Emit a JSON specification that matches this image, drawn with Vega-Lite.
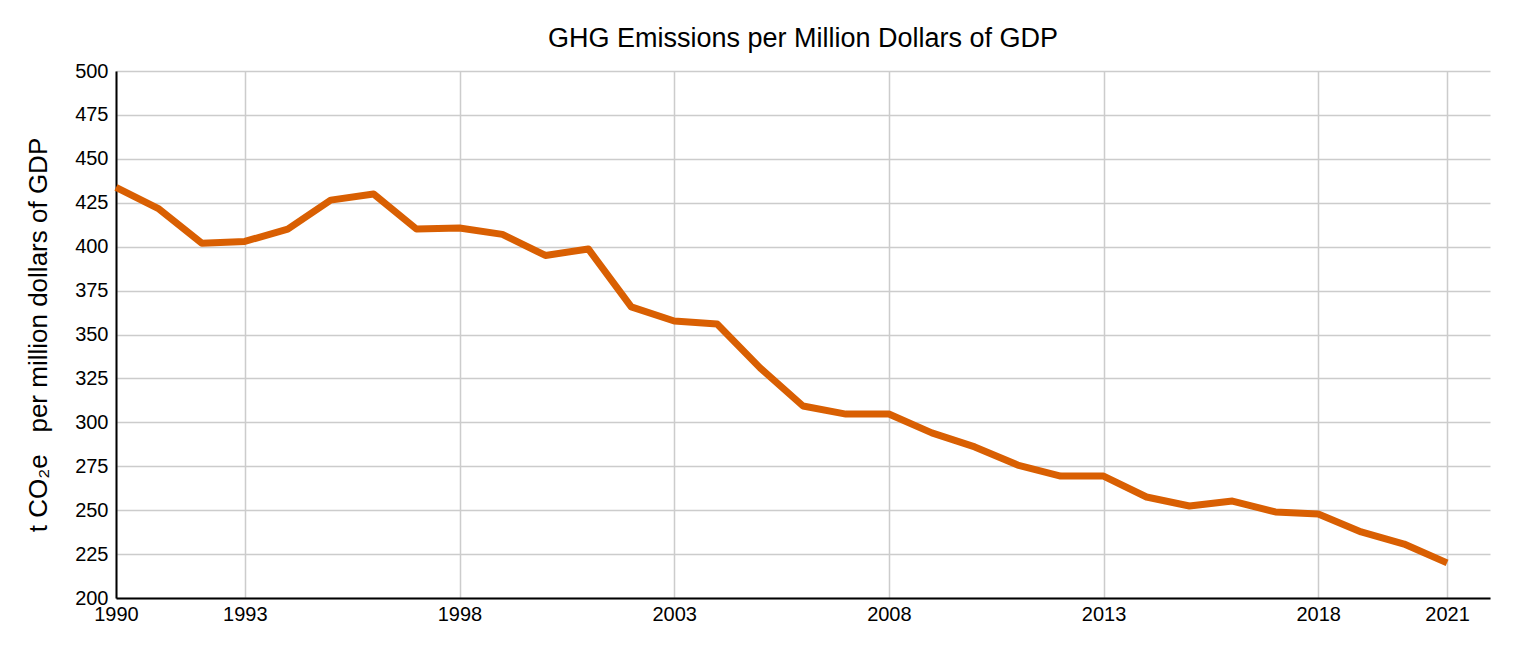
{
  "$schema": "https://vega.github.io/schema/vega-lite/v6.json",
  "autosize": "none",
  "width": 1374,
  "height": 527,
  "padding": {"left": 116, "top": 71, "right": 46, "bottom": 74},
  "background": "white",
  "config": {
    "view": {"stroke": null},
    "font": "Liberation Sans"
  },
  "title": {
    "text": "GHG Emissions per Million Dollars of GDP",
    "fontSize": 27,
    "fontWeight": "normal",
    "color": "black",
    "font": "Liberation Sans",
    "offset": 8,
    "anchor": "middle"
  },
  "data": {
    "values": [
      {"year": 1990, "value": 433.7},
      {"year": 1991, "value": 421.5},
      {"year": 1992, "value": 402},
      {"year": 1993, "value": 403},
      {"year": 1994, "value": 410},
      {"year": 1995, "value": 426.5},
      {"year": 1996, "value": 430},
      {"year": 1997, "value": 410},
      {"year": 1998, "value": 410.6},
      {"year": 1999, "value": 407},
      {"year": 2000, "value": 395},
      {"year": 2001, "value": 398.7},
      {"year": 2002, "value": 365.7},
      {"year": 2003, "value": 357.7},
      {"year": 2004, "value": 356},
      {"year": 2005, "value": 331},
      {"year": 2006, "value": 309.3},
      {"year": 2007, "value": 304.7},
      {"year": 2008, "value": 304.7},
      {"year": 2009, "value": 294},
      {"year": 2010, "value": 286},
      {"year": 2011, "value": 275.7},
      {"year": 2012, "value": 269.4},
      {"year": 2013, "value": 269.4},
      {"year": 2014, "value": 257.5},
      {"year": 2015, "value": 252.4},
      {"year": 2016, "value": 255.2},
      {"year": 2017, "value": 249},
      {"year": 2018, "value": 247.8},
      {"year": 2019, "value": 237.6},
      {"year": 2020, "value": 230.7},
      {"year": 2021, "value": 220}
    ]
  },
  "mark": {"type": "line", "color": "#D95F02", "strokeWidth": 7, "strokeJoin": "round", "strokeCap": "butt"},
  "encoding": {
    "x": {
      "field": "year",
      "type": "quantitative",
      "scale": {"domain": [1990, 2022], "nice": false, "zero": false},
      "axis": {
        "title": null,
        "values": [1990, 1993, 1998, 2003, 2008, 2013, 2018, 2021],
        "format": "d",
        "labelFontSize": 20,
        "labelColor": "black",
        "labelFont": "Liberation Sans",
        "labelPadding": 6,
        "labelFlush": false,
        "labelOverlap": false,
        "ticks": false,
        "domainColor": "black",
        "domainWidth": 2,
        "grid": true,
        "gridColor": "#CCCCCC",
        "gridWidth": 1.5
      }
    },
    "y": {
      "field": "value",
      "type": "quantitative",
      "scale": {"domain": [200, 500], "nice": false, "zero": false},
      "axis": {
        "title": "t CO₂e\u00a0\u00a0 per million dollars of GDP",
        "titleFontSize": 26,
        "titleFontWeight": "normal",
        "titleColor": "black",
        "titleFont": "Liberation Sans",
        "titlePadding": 23,
        "values": [200, 225, 250, 275, 300, 325, 350, 375, 400, 425, 450, 475, 500],
        "labelFontSize": 20,
        "labelColor": "black",
        "labelFont": "Liberation Sans",
        "labelPadding": 8,
        "labelFlush": false,
        "labelOverlap": false,
        "ticks": false,
        "domainColor": "black",
        "domainWidth": 2,
        "grid": true,
        "gridColor": "#CCCCCC",
        "gridWidth": 1.5
      }
    }
  }
}
